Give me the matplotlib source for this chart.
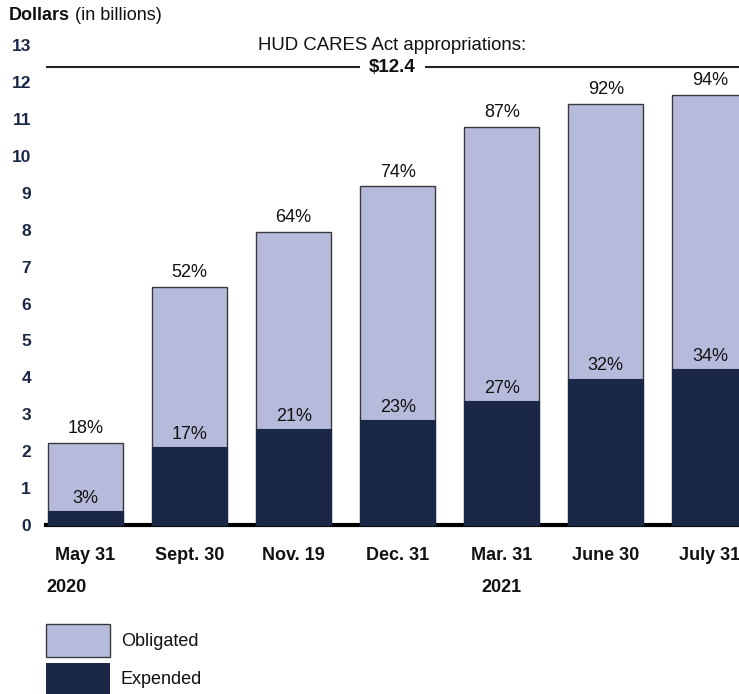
import matplotlib
matplotlib.use("Agg")
import matplotlib.pyplot as plt
from matplotlib.patches import Rectangle
import matplotlib.transforms as mtransforms

plt.rcParams['font.family'] = ['Liberation Sans', 'DejaVu Sans']

# ---- data ----
categories = ["May 31", "Sept. 30", "Nov. 19", "Dec. 31", "Mar. 31", "June 30", "July 31"]
obligated = [2.23, 6.45, 7.94, 9.18, 10.79, 11.41, 11.66]
expended = [0.37, 2.11, 2.60, 2.85, 3.35, 3.97, 4.22]
obligated_pct = ["18%", "52%", "64%", "74%", "87%", "92%", "94%"]
expended_pct = ["3%", "17%", "21%", "23%", "27%", "32%", "34%"]
appropriation = 12.4
year_labels = ["2020", "2021"]
year_positions = [0, 4]
yticks = list(range(0, 14))

# ---- style ----
c_obl = "#b7bbdb"
c_exp = "#1b2747"
c_navy = "#1b2747"
c_txt = "#111111"

W, H = 739, 694
fig = plt.figure(figsize=(W / 100, H / 100), dpi=100)

ax_left, ax_right = 46, 739
ylim = (-0.2, 13.2)
px_per_unit = 36.9
zero_px = 525
bottom_px = zero_px + (0 - ylim[0]) * px_per_unit
top_px = zero_px - ylim[1] * px_per_unit
ax = fig.add_axes([ax_left / W, (H - bottom_px) / H, (ax_right - ax_left) / W, (bottom_px - top_px) / H])
ax.set_xlim(-0.38, 6.28)
ax.set_ylim(*ylim)

x = list(range(len(categories)))
bw = 0.72
ax.bar(x, obligated, width=bw, color=c_obl, edgecolor="#3a3a3a", linewidth=1.0, zorder=3)
ax.bar(x, expended, width=bw, color=c_exp, edgecolor=c_exp, linewidth=0.8, zorder=4)

for xi, ob, op in zip(x, obligated, obligated_pct):
    ax.annotate(op, (xi, ob), xytext=(0, 4), textcoords="offset points",
                ha="center", va="bottom", fontsize=13, color=c_txt, zorder=6)
for xi, ex, ep in zip(x, expended, expended_pct):
    ax.annotate(ep, (xi, ex), xytext=(0, 3), textcoords="offset points",
                ha="center", va="bottom", fontsize=13, color=c_txt, zorder=6)

# baseline
ax.axhline(0, color="black", linewidth=3, zorder=2, clip_on=False)

# appropriation line
ax.axhline(appropriation, color="#222222", linewidth=1.5, zorder=2)
bl = mtransforms.blended_transform_factory(ax.transAxes, ax.transData)
ax.text(0.5, appropriation, "$12.4", transform=bl,
        ha="center", va="center", fontsize=13.5, fontweight="bold", color=c_txt,
        bbox=dict(facecolor="white", edgecolor="none", boxstyle="square,pad=0.5"), zorder=5)
ax.text(0.5, 13.0, "HUD CARES Act appropriations:", transform=bl,
        ha="center", va="center", fontsize=13.4, color=c_txt, zorder=7)

# axes styling
for s in ax.spines.values():
    s.set_visible(False)
ax.set_yticks(yticks)
ax.set_yticklabels([str(t) for t in yticks], fontsize=12.5, fontweight="bold", color=c_navy)
ax.tick_params(axis="y", length=0, pad=10.8)
ax.set_xticks(x)
ax.set_xticklabels(categories, fontsize=13, fontweight="bold", color=c_txt)
ax.tick_params(axis="x", length=0, pad=10.5)

# year labels
bt = mtransforms.blended_transform_factory(ax.transData, fig.transFigure)
ax.text(-0.38, (H - 587) / H, year_labels[0], transform=bt, ha="left", va="center",
        fontsize=13, fontweight="bold", color=c_txt)
ax.text(year_positions[1], (H - 587) / H, year_labels[1], transform=bt, ha="center", va="center",
        fontsize=13, fontweight="bold", color=c_txt)

# header
t1 = fig.text(9 / W, (H - 15) / H, "Dollars", fontsize=13, fontweight="bold", color=c_txt,
              ha="left", va="center")
fig.canvas.draw()
bb = t1.get_window_extent(fig.canvas.get_renderer())
fig.text(bb.x1 / W + 5 / W, (H - 15) / H, "(in billions)", fontsize=13, color=c_txt,
         ha="left", va="center")

# legend
fig.add_artist(Rectangle((46 / W, (H - 657) / H), 64 / W, 33 / H, transform=fig.transFigure,
                         facecolor=c_obl, edgecolor="#3a3a3a", linewidth=1.0))
fig.add_artist(Rectangle((46 / W, 0), 64 / W, (H - 663) / H, transform=fig.transFigure,
                         facecolor=c_exp, edgecolor="none"))
fig.text(121 / W, (H - 642) / H, "Obligated", fontsize=13, color=c_txt, ha="left", va="center")
fig.text(121 / W, (H - 679) / H, "Expended", fontsize=13, color=c_txt, ha="left", va="center")

fig.savefig("out.png", dpi=100)
